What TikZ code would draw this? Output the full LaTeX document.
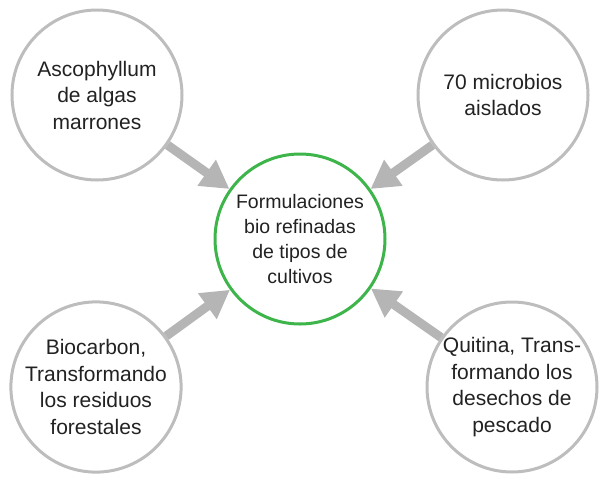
\documentclass[tikz,border=0pt]{standalone}
\usepackage{xcolor}
\usepackage{fontspec}
\setmainfont{Liberation Sans}
\usepackage{tikz}
\usetikzlibrary{arrows.meta}

\definecolor{ringgray}{HTML}{BDBDBD}
\definecolor{arrowgray}{HTML}{B5B5B5}
\definecolor{ringgreen}{HTML}{3DB54A}
\definecolor{inkdark}{HTML}{222222}

\begin{document}
\begin{tikzpicture}[x=1pt, y=-1pt,
    source/.style={circle, draw=ringgray, line width=3pt, fill=white,
    minimum size=170pt, inner sep=0pt, align=center, text=inkdark,
    font=\fontsize{21}{26.5}\selectfont},
    target/.style={circle, draw=ringgreen, line width=3pt, fill=white,
    minimum size=170pt, inner sep=0pt, align=center, text=inkdark,
    font=\fontsize{19.5}{25}\selectfont},
    feed/.style={draw=arrowgray, line width=9pt,
    -{Triangle[width=30pt,length=28pt]}}]

  \useasboundingbox (0,0) rectangle (600,480);

  \node[target] (C) at (300,239) {Formulaciones\\bio refinadas\\de tipos de\\cultivos};
  \node[source] (TL) at (97,95) {Ascophyllum\\de algas\\marrones};
  \node[source] (TR) at (503,95) {70 microbios\\aislados};
  \node[source] (BL) at (96,387) {Biocarbon,\\Transformando\\los residuos\\forestales};
  \node[source] (BR) at (512,387) {Quitina, Trans-\\formando los\\desechos de\\pescado};
  %\draw (C) circle (2pt);
  \draw[feed] (TL) -- (C);
  \draw[feed] (TR) -- (C);
  \draw[feed] (BL) -- (C);
  \draw[feed] (BR) -- (C);
\end{tikzpicture}
\end{document}
